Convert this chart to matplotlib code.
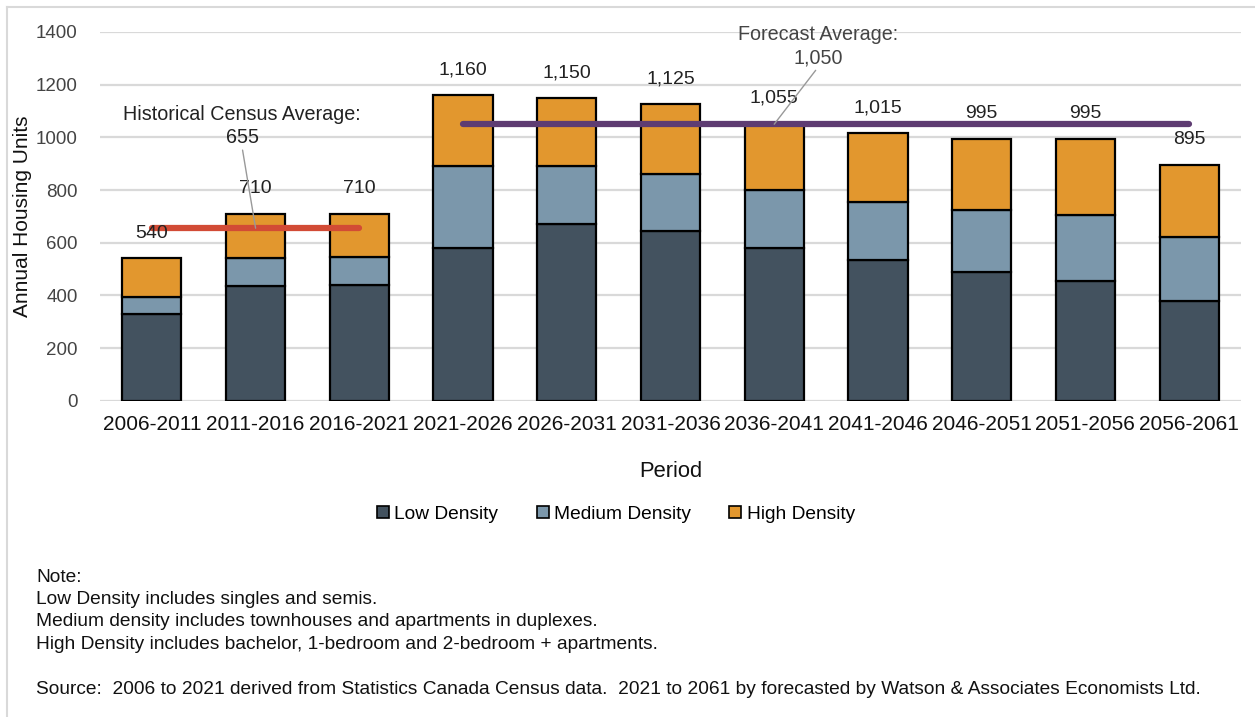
import matplotlib.pyplot as plt
import numpy as np
from matplotlib.lines import Line2D

plt.rcParams['font.family'] = ['Liberation Sans', 'DejaVu Sans']

periods = ['2006-2011', '2011-2016', '2016-2021', '2021-2026', '2026-2031', '2031-2036',
           '2036-2041', '2041-2046', '2046-2051', '2051-2056', '2056-2061']
low_density = [330, 435, 440, 580, 670, 645, 580, 535, 490, 455, 380]
medium_density = [65, 105, 105, 310, 220, 215, 220, 220, 235, 250, 240]
high_density = [145, 170, 165, 270, 260, 265, 255, 260, 270, 290, 275]
totals = [540, 710, 710, 1160, 1150, 1125, 1055, 1015, 995, 995, 895]

hist_avg = 655      # 2006-2021
forecast_avg = 1050  # 2021-2061

c_low = '#43525f'
c_med = '#7b97ab'
c_high = '#e2972e'

fig = plt.figure(figsize=(12.55, 7.17), dpi=100)
ax = fig.add_axes([100 / 1255, 1 - 400.7 / 717, 1141 / 1255, 368.7 / 717])

x = np.arange(len(periods))
w = 0.57
low = np.array(low_density)
med = np.array(medium_density)
high = np.array(high_density)
ax.bar(x, low, w, color=c_low, edgecolor='black', linewidth=1.6, zorder=2, label='Low Density')
ax.bar(x, med, w, bottom=low, color=c_med, edgecolor='black', linewidth=1.6, zorder=2,
       label='Medium Density')
ax.bar(x, high, w, bottom=low + med, color=c_high, edgecolor='black', linewidth=1.6, zorder=2,
       label='High Density')

for xi, t in zip(x, totals):
    ax.annotate(f'{t:,}', (xi, t), xytext=(0, 12), textcoords='offset points',
                ha='center', va='bottom', fontsize=14, color='#222222', zorder=4)

# average lines
ax.plot([0, 2], [hist_avg, hist_avg], color='#d24b35', lw=4.5, solid_capstyle='round', zorder=3)
ax.plot([3, 10], [forecast_avg, forecast_avg], color='#5e3c72', lw=4.5,
        solid_capstyle='round', zorder=3)

ax.annotate(f'Historical Census Average:\n{hist_avg:,}', xy=(1, hist_avg), xytext=(0.87, 962),
            ha='center', va='bottom', fontsize=14.2, color='#222222', linespacing=1.3,
            arrowprops=dict(arrowstyle='-', color='#999999', lw=1,
                            shrinkA=0, shrinkB=0, relpos=(0.5, 0)), zorder=4)
ax.annotate(f'Forecast Average:\n{forecast_avg:,}', xy=(6, forecast_avg), xytext=(6.42, 1265),
            ha='center', va='bottom', fontsize=14.2, color='#444444', linespacing=1.3,
            arrowprops=dict(arrowstyle='-', color='#999999', lw=1,
                            shrinkA=0, shrinkB=0, relpos=(0.5, 0)), zorder=4)

ax.set_xlim(-0.5, len(periods) - 0.5)
ax.set_ylim(0, 1400)
ax.set_yticks(range(0, 1401, 200))
ax.set_xticks(x)
ax.set_xticklabels(periods, fontsize=15)
ax.tick_params(axis='y', labelsize=13.5, labelcolor='#444444', length=0, pad=16)
ax.tick_params(axis='x', length=0, pad=10, labelcolor='#111111')
ax.grid(axis='y', color='#d9d9d9', lw=1.6, zorder=0)
ax.set_axisbelow(True)
for s in ax.spines.values():
    s.set_visible(False)
ax.set_xlabel('Period', fontsize=15.8, labelpad=20, color='#111111')
ax.set_ylabel('Annual Housing Units', fontsize=15, color='#111111')
ax.yaxis.set_label_coords(-68 / 1141, 0.5)

handles = [Line2D([], [], marker='s', ls='', markersize=9, markerfacecolor=c,
                  markeredgecolor='black', markeredgewidth=1.2)
           for c in (c_low, c_med, c_high)]
fig.legend(handles, ['Low Density', 'Medium Density', 'High Density'], loc='center',
           bbox_to_anchor=(616 / 1255, 1 - 514 / 717), ncol=3, frameon=False,
           fontsize=13.8, handlelength=0.6, handletextpad=0.3, columnspacing=2.0)

notes = ['Note:',
         'Low Density includes singles and semis.',
         'Medium density includes townhouses and apartments in duplexes.',
         'High Density includes bachelor, 1-bedroom and 2-bedroom + apartments.']
for i, line in enumerate(notes):
    fig.text(36 / 1255, 1 - (577 + 22.5 * i) / 717, line, fontsize=13.8, va='center',
             color='#111111')
fig.text(36 / 1255, 1 - 690 / 717,
         'Source:  2006 to 2021 derived from Statistics Canada Census data.  '
         '2021 to 2061 by forecasted by Watson & Associates Economists Ltd.',
         fontsize=13.8, va='center', color='#111111')

# chart frame (top and left edges)
fig.add_artist(Line2D([7 / 1255, 1], [1 - 7 / 717, 1 - 7 / 717], color='#d9d9d9', lw=1.5))
fig.add_artist(Line2D([7 / 1255, 7 / 1255], [0, 1 - 7 / 717], color='#d9d9d9', lw=1.5))

fig.savefig('out.png', dpi=100)
